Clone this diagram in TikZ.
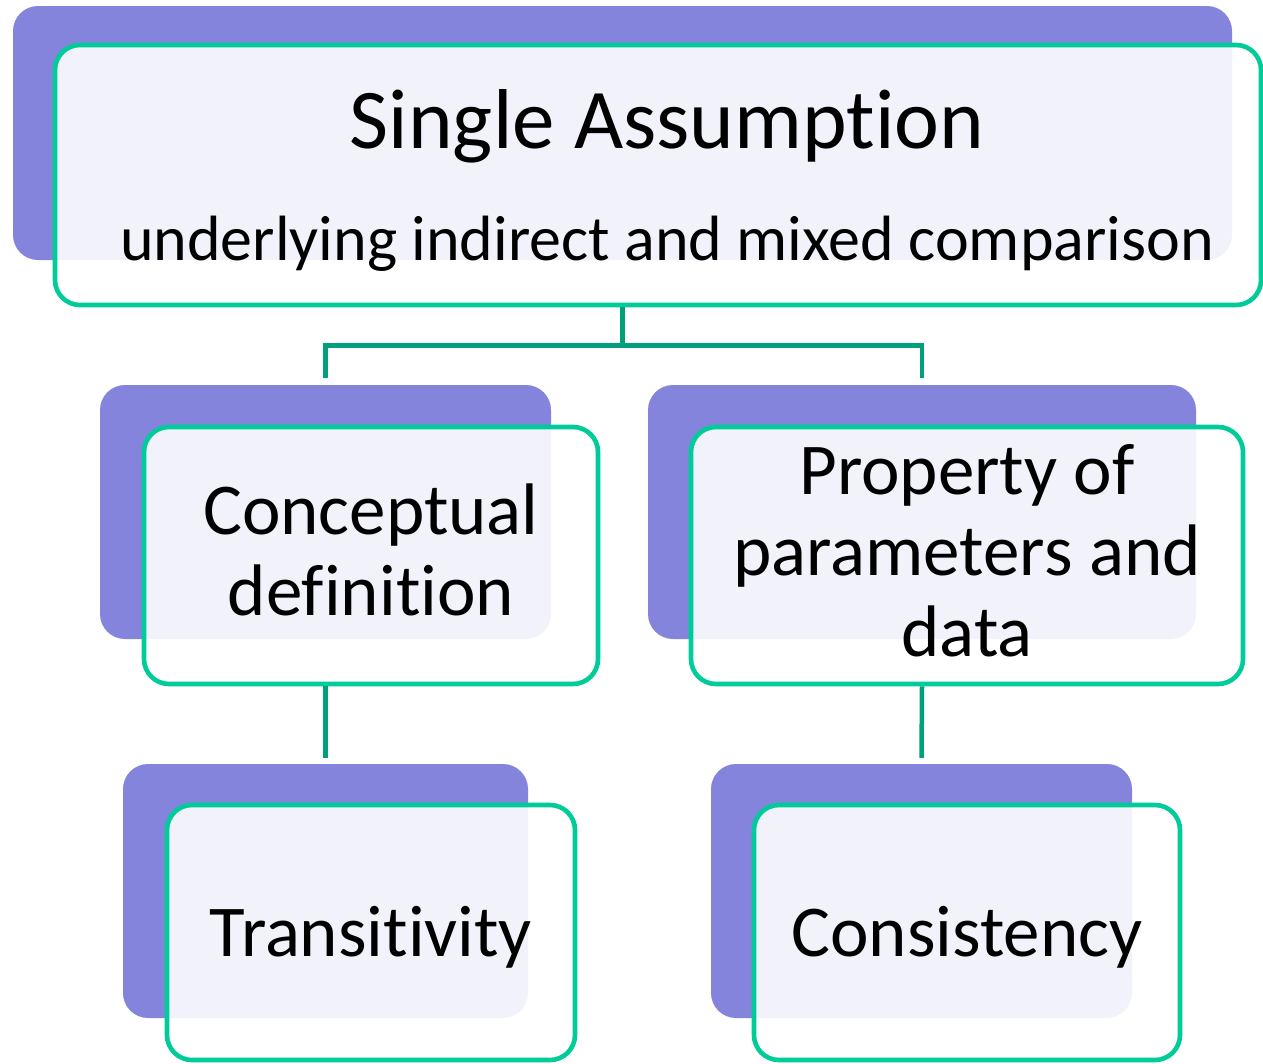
\documentclass[tikz,border=0pt]{standalone}
\usepackage{fontspec}
\setmainfont[Ligatures=NoCommon]{Carlito}
\usetikzlibrary{calc}
\definecolor{backpurple}{RGB}{132,132,220}
\definecolor{frameg}{RGB}{0,204,153}
\definecolor{connG}{RGB}{0,160,122}
\tikzset{
  backbox/.style={draw=none, fill=backpurple, rounded corners=25pt, inner sep=0pt},
  frontbox/.style={draw=frameg, line width=4.6pt, fill=white, fill opacity=0.9, rounded corners=25pt, inner sep=0pt},
  boxtext/.style={align=center, font=\fontsize{73}{81}\selectfont, inner sep=0pt},
  conn/.style={draw=connG, line width=4.5pt}
}
\begin{document}
\begin{tikzpicture}[x=1pt,y=-1pt]
\useasboundingbox[fill=white] (0,0) rectangle (1263,1063);
% top
\node[backbox, minimum width=1219pt, minimum height=254pt] (topback) at (622.5,133) {};
\node[frontbox, minimum width=1206pt, minimum height=260pt] (top) at (658,175) {};
\node[anchor=base, font=\fontsize{85}{100}\selectfont] (toptitle) at (667,148) {Single Assumption};
\node[anchor=base, font=\fontsize{64}{76}\selectfont] (topsub) at (667,260) {underlying indirect and mixed comparison};
% middle
\node[backbox, minimum width=451pt, minimum height=254pt] (mlback) at (325.5,512) {};
\node[frontbox, minimum width=454pt, minimum height=257pt] (ml) at (371,555.5) {};
\node[boxtext] (mltext) at (371,550) {Conceptual\\definition};
\node[backbox, minimum width=548pt, minimum height=254pt] (mrback) at (922,512) {};
\node[frontbox, minimum width=552pt, minimum height=257pt] (mr) at (967,555.5) {};
\node[boxtext] (mrtext) at (967,551) {Property of\\parameters and\\data};
% bottom
\node[backbox, minimum width=405pt, minimum height=254pt] (blback) at (325.5,891) {};
\node[frontbox, minimum width=408pt, minimum height=255pt] (bl) at (371,932.5) {};
\node[boxtext] (bltext) at (371,937) {Transitivity};
\node[backbox, minimum width=421pt, minimum height=254pt] (brback) at (921.5,891) {};
\node[frontbox, minimum width=426pt, minimum height=255pt] (br) at (967,932.5) {};
\node[boxtext] (brtext) at (967,937) {Consistency};
% connectors
\coordinate (split) at ($(topback.south |- top.south)+(0,38)$);
\draw[conn] (topback.south |- top.south) -- (split);
\draw[conn] (split) -| ($(mlback.north)+(0,-7)$);
\draw[conn] (split) -| ($(mrback.north)+(0,-7)$);
\draw[conn] (mlback.south |- ml.south) -- ($(blback.north)+(0,-6)$);
\draw[conn] (mrback.south |- mr.south) -- ($(brback.north)+(0,-6)$);
\end{tikzpicture}
\end{document}
